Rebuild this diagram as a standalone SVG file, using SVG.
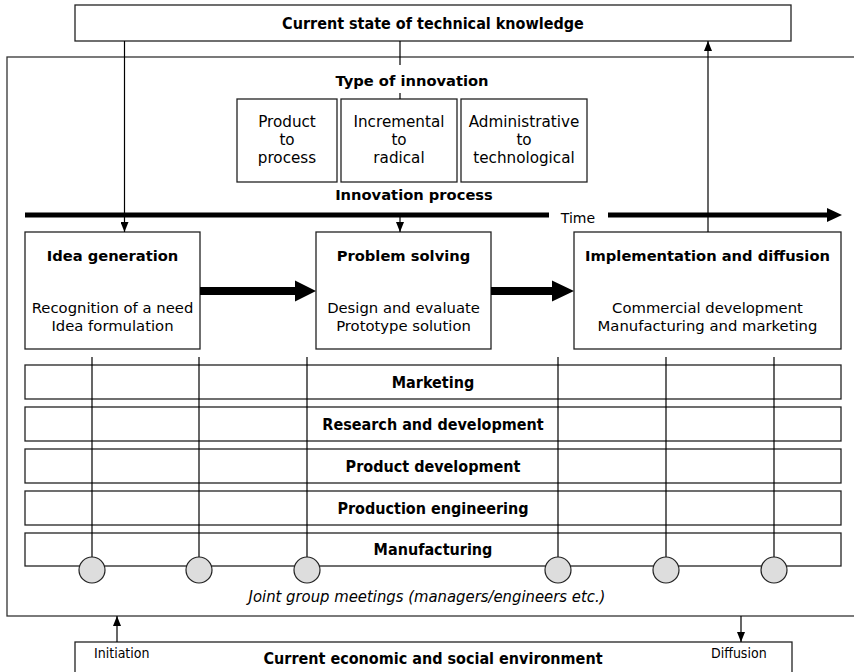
<svg xmlns="http://www.w3.org/2000/svg" width="854" height="672" viewBox="0 0 854 672">
  <defs>
    <marker id="tip" viewBox="0 0 10 8" refX="10" refY="4" markerWidth="10" markerHeight="8" markerUnits="userSpaceOnUse" orient="auto">
      <path d="M0,0 L10,4 L0,8 Z" fill="#000"/>
    </marker>
    <style>
      .box { fill: #fff; stroke: #222; stroke-width: 1.3; }
      .frame { fill: none; stroke: #333; stroke-width: 1.3; }
      .wire { fill: none; stroke: #000; stroke-width: 1.2; }
      .cond { font-family: "DejaVu Sans Condensed", "DejaVu Sans", sans-serif; font-stretch: condensed; fill: #000; }
      .hb { font-weight: bold; font-size: 16px; text-anchor: middle; }
      .small { font-size: 14px; }
      .ver { font-family: "DejaVu Sans", Verdana, sans-serif; fill: #000; text-anchor: middle; }
      .vt { font-size: 14.8px; }
      .vb { font-size: 14.7px; font-weight: bold; }
      .ty { font-size: 15.2px; }
      .meet { fill: #ddd; stroke: #222; stroke-width: 1.2; }
    </style>
  </defs>

  <!-- outer frame of the firm -->
  <rect class="frame" x="7" y="57" width="860" height="559"/>

  <!-- environment boxes -->
  <g id="knowledge">
    <rect class="box" x="75" y="5" width="716" height="36"/>
    <text class="cond hb" x="433" y="29">Current state of technical knowledge</text>
  </g>
  <g id="environment">
    <rect class="box" x="75" y="642" width="717" height="40"/>
    <text class="cond small" x="94" y="658">Initiation</text>
    <text class="cond small" x="711" y="658">Diffusion</text>
    <text class="cond hb" x="433" y="664">Current economic and social environment</text>
  </g>

  <!-- type of innovation -->
  <g id="type-of-innovation">
    <text class="ver vb" x="412" y="86">Type of innovation</text>
  </g>
  <g id="type-product">
    <rect class="box" x="237" y="99" width="100" height="83"/>
    <text class="ver ty" x="287" y="127">Product</text>
    <text class="ver ty" x="287" y="145">to</text>
    <text class="ver ty" x="287" y="163">process</text>
  </g>
  <g id="type-incremental">
    <rect class="box" x="341" y="99" width="116" height="83"/>
    <text class="ver ty" x="399" y="127">Incremental</text>
    <text class="ver ty" x="399" y="145">to</text>
    <text class="ver ty" x="399" y="163">radical</text>
  </g>
  <g id="type-administrative">
    <rect class="box" x="461" y="99" width="126" height="83"/>
    <text class="ver ty" x="524" y="127">Administrative</text>
    <text class="ver ty" x="524" y="145">to</text>
    <text class="ver ty" x="524" y="163">technological</text>
  </g>

  <!-- innovation process timeline -->
  <g id="timeline">
    <text class="ver vb" x="414" y="200">Innovation process</text>
    <line x1="25" y1="215" x2="549" y2="215" stroke="#000" stroke-width="5"/>
    <line x1="608" y1="215" x2="828" y2="215" stroke="#000" stroke-width="5"/>
    <path d="M827,208 L842,215 L827,222 Z" fill="#000"/>
    <text class="ver" font-size="14" x="578" y="223">Time</text>
  </g>

  <!-- functional rows -->
  <g id="row-marketing">
    <rect class="box" x="25" y="365" width="816" height="34"/>
    <text class="cond hb" x="433" y="388">Marketing</text>
  </g>
  <g id="row-rnd">
    <rect class="box" x="25" y="407" width="816" height="34"/>
    <text class="cond hb" x="433" y="430">Research and development</text>
  </g>
  <g id="row-product">
    <rect class="box" x="25" y="449" width="816" height="34"/>
    <text class="cond hb" x="433" y="472">Product development</text>
  </g>
  <g id="row-production">
    <rect class="box" x="25" y="491" width="816" height="34"/>
    <text class="cond hb" x="433" y="514">Production engineering</text>
  </g>
  <g id="row-manufacturing">
    <rect class="box" x="25" y="533" width="816" height="33"/>
    <text class="cond hb" x="433" y="555">Manufacturing</text>
  </g>

  <!-- process stages -->
  <g id="idea-generation">
    <rect class="box" x="25" y="232" width="175" height="117"/>
    <text class="ver vb" x="112.5" y="261">Idea generation</text>
    <text class="ver vt" x="112.5" y="313">Recognition of a need</text>
    <text class="ver vt" x="112.5" y="331">Idea formulation</text>
  </g>
  <g id="problem-solving">
    <rect class="box" x="316" y="232" width="175" height="117"/>
    <text class="ver vb" x="403.5" y="261">Problem solving</text>
    <text class="ver vt" x="403.5" y="313">Design and evaluate</text>
    <text class="ver vt" x="403.5" y="331">Prototype solution</text>
  </g>
  <g id="implementation">
    <rect class="box" x="574" y="232" width="267" height="117"/>
    <text class="ver vb" x="707.5" y="261">Implementation and diffusion</text>
    <text class="ver vt" x="707.5" y="313">Commercial development</text>
    <text class="ver vt" x="707.5" y="331">Manufacturing and marketing</text>
  </g>

  <!-- connectors -->
  <g id="connectors">
    <line class="wire" x1="124.5" y1="41" x2="124.5" y2="232" marker-end="url(#tip)"/>
    <line class="wire" x1="400" y1="41" x2="400" y2="65"/>
    <line class="wire" x1="400" y1="93" x2="400" y2="99"/>
    <line class="wire" x1="400" y1="217" x2="400" y2="232" marker-end="url(#tip)"/>
    <line class="wire" x1="708" y1="232" x2="708" y2="41" marker-end="url(#tip)"/>
    <line class="wire" x1="117" y1="642" x2="117" y2="616" marker-end="url(#tip)"/>
    <line class="wire" x1="741" y1="616" x2="741" y2="642" marker-end="url(#tip)"/>
    <!-- stage-to-stage block arrows -->
    <path d="M200,287 L295,287 L295,280.5 L316,291 L295,301.5 L295,295 L200,295 Z" fill="#000"/>
    <path d="M491,287 L552,287 L552,280.5 L574,291 L552,301.5 L552,295 L491,295 Z" fill="#000"/>
    <!-- meeting lines -->
    <line class="wire" x1="92" y1="357" x2="92" y2="557"/>
    <line class="wire" x1="199" y1="357" x2="199" y2="557"/>
    <line class="wire" x1="307" y1="357" x2="307" y2="557"/>
    <line class="wire" x1="558" y1="357" x2="558" y2="557"/>
    <line class="wire" x1="666" y1="357" x2="666" y2="557"/>
    <line class="wire" x1="774" y1="357" x2="774" y2="557"/>
  </g>

  <!-- joint group meetings -->
  <g id="meetings">
    <circle class="meet" cx="92" cy="570" r="13"/>
    <circle class="meet" cx="199" cy="570" r="13"/>
    <circle class="meet" cx="307" cy="570" r="13"/>
    <circle class="meet" cx="558" cy="570" r="13"/>
    <circle class="meet" cx="666" cy="570" r="13"/>
    <circle class="meet" cx="774" cy="570" r="13"/>
    <text class="cond" font-size="16.5" font-style="italic" text-anchor="middle" x="427" y="602">Joint group meetings (managers/engineers etc.)</text>
  </g>
</svg>
